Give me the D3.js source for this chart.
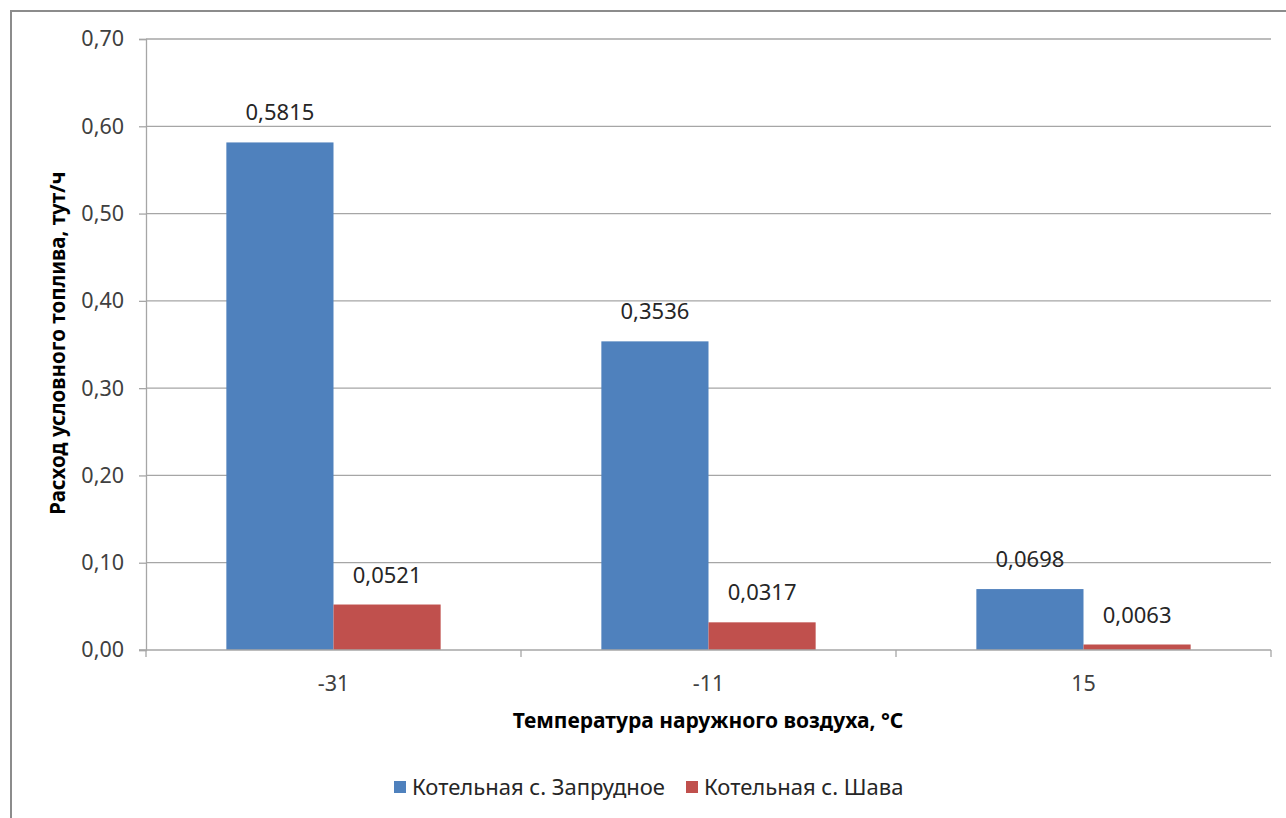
<!DOCTYPE html>
<html>
<head>
<meta charset="utf-8">
<script src="https://cdn.jsdelivr.net/npm/d3@7"></script>
<style>
  html, body { margin: 0; padding: 0; background: #fff; }
  svg { display: block; font-family: "Noto Sans", "Open Sans", sans-serif; }
</style>
</head>
<body>
<svg id="chart" width="1286" height="818"></svg>
<script>
// Fuel consumption of two boiler houses by outdoor temperature
const categories = ["-31", "-11", "15"];
const seriesNames = ["Котельная с. Запрудное", "Котельная с. Шава"];
const zaprudnoe = [0.5815, 0.3536, 0.0698];
const shava = [0.0521, 0.0317, 0.0063];
const yTicks = [0, 0.1, 0.2, 0.3, 0.4, 0.5, 0.6, 0.7];
const colors = ["#4F81BD", "#C0504D"];

const svg = d3.select("#chart");
const plot = { left: 146, right: 1271, top: 39, bottom: 650 };
const fmtTick = v => d3.format(".2f")(v).replace(".", ",");
const fmtVal = v => d3.format(".4f")(v).replace(".", ",");

// Outer frame
svg.append("rect")
  .attr("x", 11).attr("y", 11)
  .attr("width", 1400).attr("height", 1000)
  .attr("fill", "#fff").attr("stroke", "#8c8c8c").attr("stroke-width", 2);

const x = d3.scaleBand().domain(categories).range([plot.left, plot.right]).paddingInner(0).paddingOuter(0);
const x1 = d3.scaleBand().domain([0, 1]).range([0, x.bandwidth()]).paddingOuter(0.75).paddingInner(0);
const y = d3.scaleLinear().domain([0, 0.7]).range([plot.bottom, plot.top]);

// Horizontal gridlines
svg.append("g").selectAll("line").data(yTicks.filter(d => d > 0)).join("line")
  .attr("x1", plot.left).attr("x2", plot.right)
  .attr("y1", d => y(d)).attr("y2", d => y(d))
  .attr("stroke", "#a6a6a6").attr("stroke-width", 1.3);

// Y axis
const yAxis = svg.append("g").attr("transform", `translate(${plot.left},0)`)
  .call(d3.axisLeft(y).tickValues(yTicks).tickFormat(fmtTick).tickSize(7).tickPadding(15));
yAxis.select(".domain").attr("stroke", "#a6a6a6").attr("stroke-width", 1.3);
yAxis.selectAll(".tick line").attr("stroke", "#a6a6a6").attr("stroke-width", 1.3);
yAxis.selectAll(".tick text").attr("fill", "#404040").attr("font-size", 21.5)
  .attr("font-family", "'Noto Sans', sans-serif");

// Bars
const groups = svg.append("g").selectAll("g").data(categories).join("g")
  .attr("transform", d => `translate(${x(d)},0)`);
groups.selectAll("rect")
  .data((d, i) => [zaprudnoe[i], shava[i]].map((v, s) => ({ v, s })))
  .join("rect")
  .attr("x", d => x1(d.s))
  .attr("width", x1.bandwidth())
  .attr("y", d => y(d.v))
  .attr("height", d => y(0) - y(d.v))
  .attr("fill", d => colors[d.s]);

// Value labels
groups.selectAll("text")
  .data((d, i) => [zaprudnoe[i], shava[i]].map((v, s) => ({ v, s })))
  .join("text")
  .attr("x", d => x1(d.s) + x1.bandwidth() / 2)
  .attr("y", d => y(d.v) - 22)
  .attr("text-anchor", "middle")
  .attr("font-size", 22).attr("fill", "#262626")
  .text(d => fmtVal(d.v));

// X axis
const xAxis = svg.append("g").attr("transform", `translate(0,${plot.bottom})`)
  .call(d3.axisBottom(x).tickSize(0).tickPadding(26));
xAxis.select(".domain").remove();
xAxis.append("line").attr("x1", plot.left - 7).attr("x2", plot.right)
  .attr("stroke", "#a6a6a6").attr("stroke-width", 1.3);
xAxis.selectAll(".boundary").data([...categories.map(c => x(c)), plot.right]).join("line")
  .attr("class", "boundary")
  .attr("x1", d => d).attr("x2", d => d).attr("y1", 0).attr("y2", 7)
  .attr("stroke", "#a6a6a6").attr("stroke-width", 1.3);
xAxis.selectAll(".tick text").attr("fill", "#404040").attr("font-size", 21.5)
  .attr("font-family", "'Noto Sans', sans-serif");

// Axis titles
svg.append("text")
  .attr("x", 708).attr("y", 728)
  .attr("text-anchor", "middle").attr("font-weight", "bold").attr("font-size", 21)
  .attr("fill", "#000")
  .text("Температура наружного воздуха, °С");

svg.append("text")
  .attr("transform", "translate(65,343) rotate(-90)")
  .attr("text-anchor", "middle").attr("font-weight", "bold").attr("font-size", 20.5)
  .attr("fill", "#000")
  .text("Расход условного топлива, тут/ч");

// Legend
const legendX = [394, 686];
const legend = svg.append("g").selectAll("g").data(seriesNames).join("g")
  .attr("transform", (d, i) => `translate(${legendX[i]},787)`);
legend.append("rect").attr("x", 0).attr("y", -6).attr("width", 12).attr("height", 12)
  .attr("fill", (d, i) => colors[i]);
legend.append("text").attr("x", 18).attr("y", 8)
  .attr("font-size", 22).attr("fill", "#262626")
  .text(d => d);
</script>
</body>
</html>
